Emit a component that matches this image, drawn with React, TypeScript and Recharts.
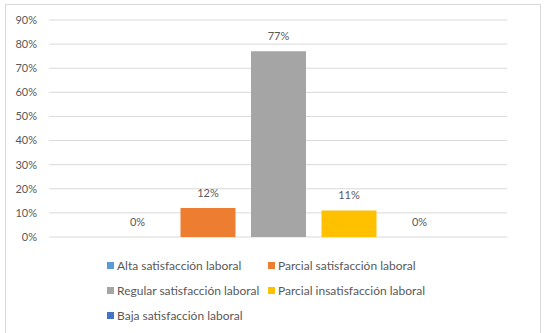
import { BarChart, Bar, XAxis, YAxis, CartesianGrid, LabelList } from 'recharts'

const seriesKeys = ['alta', 'parcialSat', 'regular', 'parcialInsat', 'baja']
const seriesNames = [
  'Alta satisfacción laboral',
  'Parcial satisfacción laboral',
  'Regular satisfacción laboral',
  'Parcial insatisfacción laboral',
  'Baja satisfacción laboral',
]
const seriesValues = [0, 12, 77, 11, 0]
const seriesColors = ['#5B9BD5', '#ED7D31', '#A5A5A5', '#FFC000', '#4472C4']
const yTicks = [0, 10, 20, 30, 40, 50, 60, 70, 80, 90]

const row: Record<string, string | number> = { name: 'Satisfacción laboral' }
seriesKeys.forEach((k, i) => {
  row[k] = seriesValues[i]
})
const data = [row]

const FONT = 'Lato, "Open Sans", sans-serif'
const TEXT = '#595959'

// two-column legend under the plot, like the office chart layout
function LegendGrid() {
  return (
    <div
      style={{
        position: 'absolute',
        left: 101,
        top: 251,
        display: 'grid',
        gridTemplateColumns: '161px auto',
        rowGap: 7,
        fontFamily: FONT,
        fontSize: 12,
        color: TEXT,
      }}
    >
      {seriesNames.map((n, i) => (
        <div key={n} style={{ display: 'flex', alignItems: 'center', height: 18, whiteSpace: 'nowrap' }}>
          <span style={{ width: 7, height: 7, background: seriesColors[i], marginRight: 3, display: 'inline-block' }} />
          {n}
        </div>
      ))}
    </div>
  )
}

export default function App() {
  return (
    <div
      style={{
        position: 'absolute',
        left: 5,
        top: 4,
        width: 536,
        height: 340,
        border: '1px solid #d9d9d9',
        boxSizing: 'border-box',
        background: '#fff',
      }}
    >
      <BarChart
        width={534}
        height={338}
        data={data}
        margin={{ top: 15, right: 33, bottom: 106, left: 0 }}
        barSize={55}
        barGap={15.5}
        barCategoryGap={0}
      >
        <CartesianGrid vertical={false} stroke="#d9d9d9" />
        <XAxis dataKey="name" hide />
        <YAxis
          width={43}
          domain={[0, 90]}
          ticks={yTicks}
          interval={0}
          axisLine={false}
          tickLine={false}
          tickSize={0}
          tickMargin={12}
          tickFormatter={(v) => `${v}%`}
          tick={{ fill: TEXT, fontSize: 11, fontFamily: FONT }}
        />
        {seriesKeys.map((k, i) => (
          <Bar
            key={k}
            dataKey={k}
            name={seriesNames[i]}
            fill={seriesColors[i]}
            minPointSize={0.01}
            isAnimationActive={false}
          >
            <LabelList
              dataKey={k}
              position="top"
              offset={11}
              formatter={(v: number) => `${v}%`}
              style={{ fill: TEXT, fontSize: 11, fontFamily: FONT }}
            />
          </Bar>
        ))}
      </BarChart>
      <LegendGrid />
    </div>
  )
}
